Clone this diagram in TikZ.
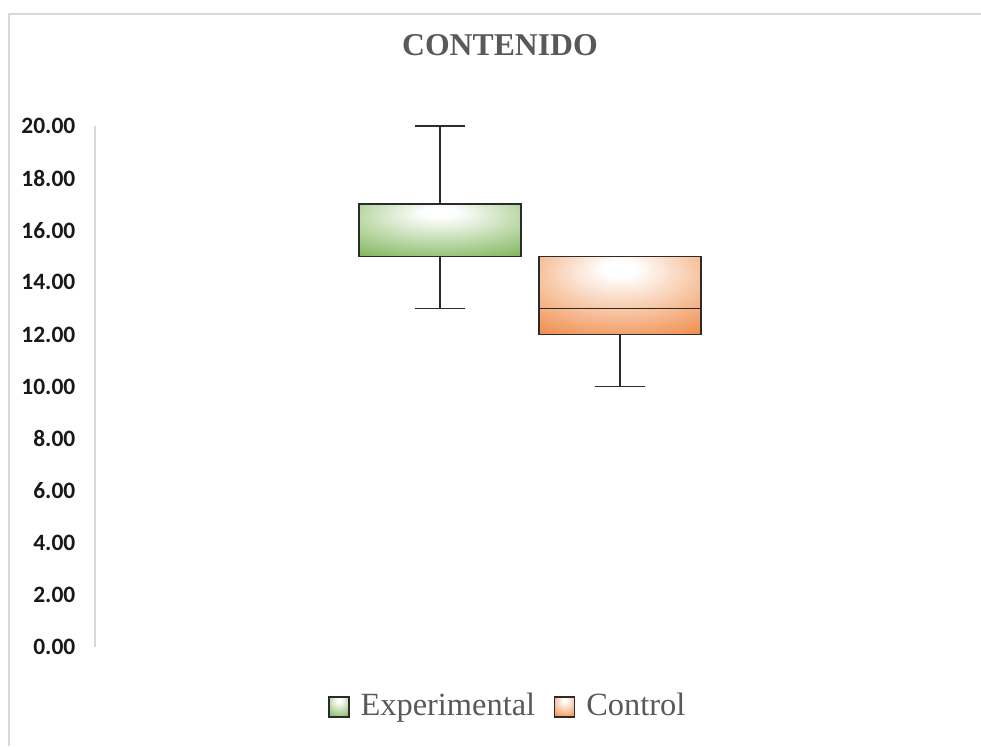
\documentclass[tikz,border=0pt]{standalone}
\usepackage{fontspec}
\setmainfont{Liberation Serif}
\newfontfamily\axisfont{Carlito}
\usetikzlibrary{positioning}

\definecolor{expgreen}{HTML}{70AD47}
\definecolor{ctrlorange}{HTML}{ED7D31}
\definecolor{textgray}{HTML}{595959}
\definecolor{framegray}{HTML}{D9D9D9}
\definecolor{boxgray}{HTML}{2B2B2B}

\pgfdeclareradialshading{expglow}{\pgfpoint{0bp}{18bp}}{color(0bp)=(white); color(5bp)=(white); color(48bp)=(expgreen); color(100bp)=(expgreen)}
\pgfdeclareradialshading{ctrlglow}{\pgfpoint{0bp}{18bp}}{color(0bp)=(white); color(5bp)=(white); color(48bp)=(ctrlorange); color(100bp)=(ctrlorange)}

\tikzset{
  boxbody/.style={draw=boxgray, line width=1.1pt, shade, inner sep=0pt, minimum width=121.5pt},
  whisker/.style={draw=boxgray, line width=1.1pt},
  legsq/.style={draw=boxgray, line width=1pt, shade, inner sep=0pt, minimum size=15pt},
  legtext/.style={text=textgray, inner sep=0pt, font=\fontsize{24.3}{28}\selectfont, text height=17pt, text depth=5pt},
  ticklabel/.style={anchor=east, text=black!90, font=\axisfont\bfseries\fontsize{17.6}{20}\selectfont}
}

\begin{document}
\begin{tikzpicture}[x=0.75pt,y=0.75pt]
\useasboundingbox (0,0) rectangle (981,746);
%\draw[lightgray] (0,0) grid[step=50] (981,746);

% chart frame
\draw[framegray, line width=1.5pt] (9,0) -- (9,732) -- (981,732);

\node[text=textgray, font=\bfseries\fontsize{23.8}{28}\selectfont] (title) at (500,701) {CONTENIDO};

% value axis
\coordinate (axbot) at (95,99);
\coordinate (axtop) at (95,620);
\draw[framegray, line width=1.2pt] (axbot) -- (axtop);
\foreach \v/\t in {0/0.00,2/2.00,4/4.00,6/6.00,8/8.00,10/10.00,12/12.00,14/14.00,16/16.00,18/18.00,20/20.00}
  \node[ticklabel] (tick\v) at (80,99+26.05*\v) {\t};

% Experimental: min 13, q1 15, q3 17, max 20
\node[boxbody, shading=expglow, minimum height=39.08pt] (expbox) at (440,515.8) {};
\coordinate (expmax) at (440,620);
\coordinate (expmin) at (440,437.65);
\draw[whisker] (expbox.north) -- (expmax);
\draw[whisker] (expbox.south) -- (expmin);
\draw[whisker] ([xshift=-18.4pt]expmax) -- ([xshift=18.4pt]expmax);
\draw[whisker] ([xshift=-18.4pt]expmin) -- ([xshift=18.4pt]expmin);

% Control: min 10, q1 12, median 13, q3 15
\node[boxbody, shading=ctrlglow, minimum height=58.6pt] (ctrlbox) at (620,450.675) {};
\coordinate (ctrlmed) at (620,437.65);
\coordinate (ctrlmin) at (620,359.5);
\draw[whisker] (ctrlbox.west |- ctrlmed) -- (ctrlbox.east |- ctrlmed);
\draw[whisker] (ctrlbox.south) -- (ctrlmin);
\draw[whisker] ([xshift=-18.4pt]ctrlmin) -- ([xshift=18.4pt]ctrlmin);

% legend
\node[legsq, shading=expglow] (legexp) at (339,39) {};
\node[legtext, right=8pt of legexp] (legexptext) {Experimental};
\node[legsq, shading=ctrlglow, right=14pt of legexptext] (legctrl) {};
\node[legtext, right=8pt of legctrl] (legctrltext) {Control};
\end{tikzpicture}
\end{document}
